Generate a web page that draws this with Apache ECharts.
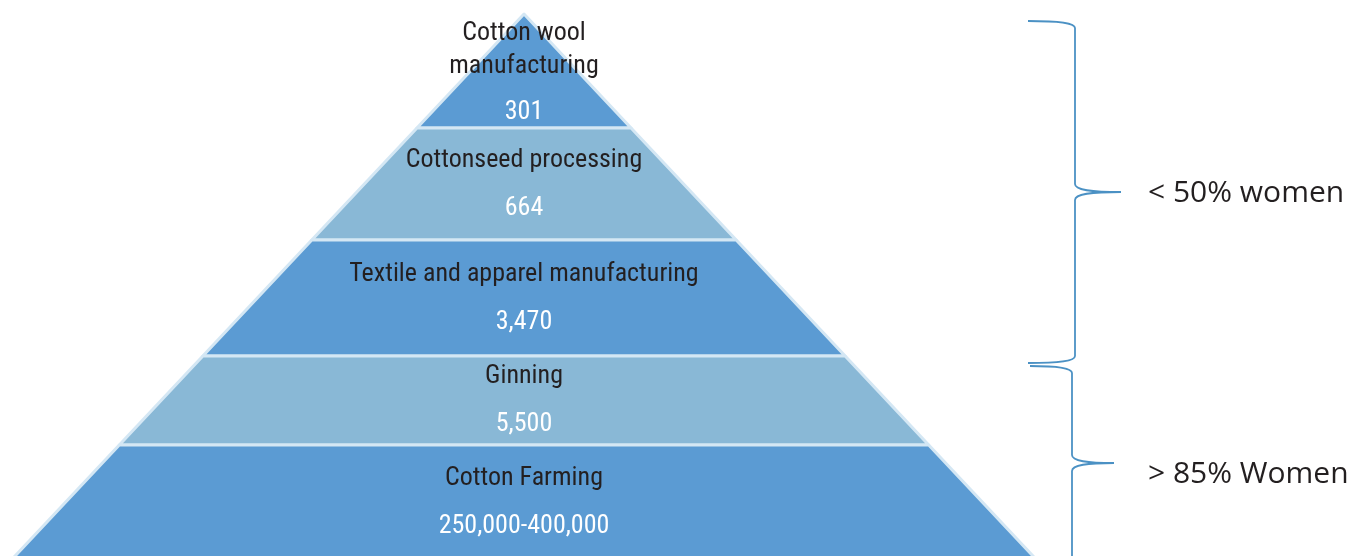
<!DOCTYPE html>
<html>
<head>
<meta charset="utf-8">
<script src="https://cdn.jsdelivr.net/npm/echarts@6/dist/echarts.min.js"></script>
<style>
  html, body { margin: 0; padding: 0; background: #ffffff; }
  #chart { width: 1367px; height: 556px; }
</style>
</head>
<body>
<div id="chart"></div>
<script>
// ---------- DATA (top of pyramid first) ----------
const tiers = ['Cotton wool\nmanufacturing', 'Cottonseed processing', 'Textile and apparel manufacturing', 'Ginning', 'Cotton Farming'];
const workers = ['301', '664', '3,470', '5,500', '250,000-400,000'];
const groupLabels = ['< 50% women', '> 85% Women'];

// ---------- LAYOUT / STYLE ----------
const layerHeights = [114, 112, 116, 89, 115];   // pixel height of each band, top to bottom
const tierColors = ['#5b9bd3', '#89b8d6', '#5b9bd3', '#89b8d6', '#5b9bd3'];
const apexY = 14, centerX = 524, halfSlope = 0.939;
const totalH = layerHeights.reduce((a, b) => a + b, 0);
const baseW = 2 * halfSlope * totalH;
const condensed = "'Roboto Condensed', 'DejaVu Sans Condensed', sans-serif";

// width of each band's lower edge follows the triangle (distance from apex)
let acc = 0;
const widthsFromApex = layerHeights.map(h => (acc += h));

const seriesData = tiers.map((name, i) => {
  const item = {
    name: name,
    value: widthsFromApex[i],
    itemStyle: { color: tierColors[i], height: layerHeights[i] },
    label: { formatter: '{n|' + name + '}\n{v|' + workers[i] + '}' }
  };
  if (i === 0) {
    item.label.rich = { n: { lineHeight: 33 }, v: { lineHeight: 59 } };
    item.label.padding = [16, 0, 0, 0];
  }
  return item;
});

// curly brace built from line + bezier segments
const braceColor = '#4b91c4';
function brace(b) {
  const st = { stroke: braceColor, lineWidth: 1.8, fill: 'none' };
  const r = 7;
  const segs = [
    { type: 'bezierCurve', shape: { x1: b.left, y1: b.top, cpx1: b.x - 15, cpy1: b.top, cpx2: b.x, cpy2: b.top + 2, x2: b.x, y2: b.top + r } },
    { type: 'line', shape: { x1: b.x, y1: b.top + r, x2: b.x, y2: b.tip - r - 1 } },
    { type: 'bezierCurve', shape: { x1: b.x, y1: b.tip - r - 1, cpx1: b.x, cpy1: b.tip - 2, cpx2: b.x + 15, cpy2: b.tip, x2: b.tipX, y2: b.tip } },
    { type: 'bezierCurve', shape: { x1: b.tipX, y1: b.tip, cpx1: b.x + 15, cpy1: b.tip, cpx2: b.x, cpy2: b.tip + 2, x2: b.x, y2: b.tip + r + 1 } },
    { type: 'line', shape: { x1: b.x, y1: b.tip + r + 1, x2: b.x, y2: b.bottom - r } },
    { type: 'bezierCurve', shape: { x1: b.x, y1: b.bottom - r, cpx1: b.x, cpy1: b.bottom - 2, cpx2: b.x - 15, cpy2: b.bottom, x2: b.left, y2: b.bottom } }
  ];
  return segs.map(s => Object.assign(s, { style: st, silent: true }));
}
const braces = [
  { left: 1028, x: 1075, top: 21, tip: 192, tipX: 1121, bottom: 363 },
  { left: 1030, x: 1072, top: 366, tip: 463, tipX: 1114, bottom: 563 }
];
const labelY = [193, 474];

const chart = echarts.init(document.getElementById('chart'), null, { renderer: 'canvas' });

const graphics = [];
braces.forEach(b => graphics.push(...brace(b)));
groupLabels.forEach((t, i) => graphics.push({
  type: 'text', x: 1148, y: labelY[i], silent: true,
  style: { text: t, font: "30px 'Open Sans', sans-serif", fill: '#231f20', verticalAlign: 'middle', textVerticalAlign: 'middle' }
}));

const option = {
  animation: false,
  backgroundColor: '#ffffff',
  series: [{
    type: 'funnel',
    sort: 'ascending',
    top: apexY,
    height: totalH,
    left: centerX - baseW / 2,
    width: baseW,
    min: 0,
    max: totalH,
    minSize: '0%',
    maxSize: '100%',
    gap: 0,
    funnelAlign: 'center',
    itemStyle: { borderColor: '#d4e7f4', borderWidth: 3 },
    emphasis: { disabled: true },
    label: {
      show: true,
      position: 'inside',
      rich: {
        n: { fontFamily: condensed, fontSize: 26, color: '#231f20', lineHeight: 48, align: 'center' },
        v: { fontFamily: condensed, fontSize: 26, color: '#ffffff', lineHeight: 48, align: 'center' }
      }
    },
    labelLine: { show: false },
    data: seriesData
  }],
  graphic: graphics
};
chart.setOption(option);
</script>
</body>
</html>
